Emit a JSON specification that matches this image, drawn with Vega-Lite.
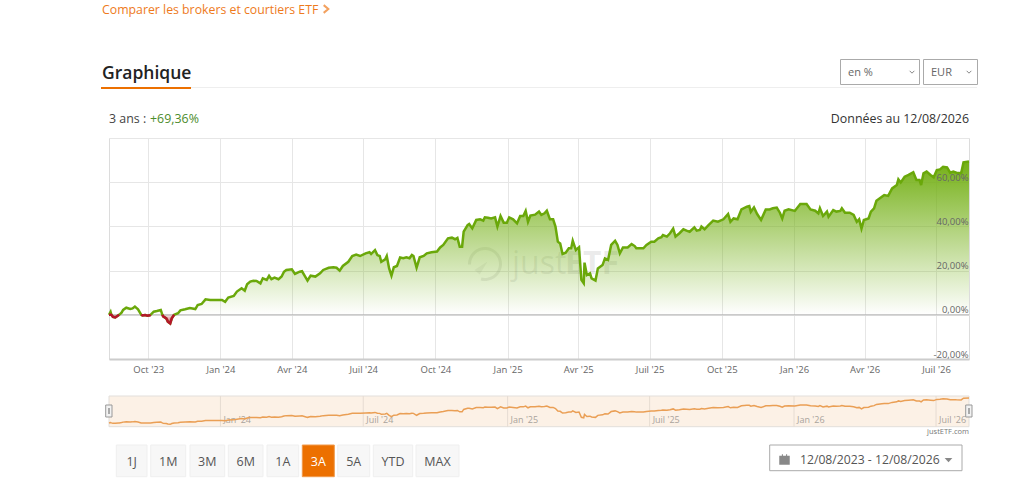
{
  "$schema": "https://vega.github.io/schema/vega-lite/v6.json",
  "width": 860,
  "height": 221,
  "autosize": "none",
  "padding": {"left": 109, "top": 138, "right": 55, "bottom": 130},
  "background": "white",
  "view": {"stroke": "#dcdcdc"},
  "config": {"font": "Open Sans", "text": {"font": "Open Sans", "baseline": "alphabetic"}},
  "datasets": {
    "perf": [
      {"date":"2023-08-12","value":0,"seg":"a"},{"date":"2023-08-14","value":1.3},{"date":"2023-08-15","value":0,"seg":"a"},{"date":"2023-08-17","value":-0.9,"seg":"a"},{"date":"2023-08-20","value":-1.2,"seg":"a"},{"date":"2023-08-24","value":-0.2,"seg":"a"},{"date":"2023-08-25","value":0,"seg":"a"},{"date":"2023-08-28","value":1.0},{"date":"2023-08-30","value":2.2},{"date":"2023-09-03","value":3.2},{"date":"2023-09-08","value":2.6},{"date":"2023-09-11","value":2.9},{"date":"2023-09-14","value":3.7},{"date":"2023-09-18","value":2.5},{"date":"2023-09-21","value":0.7},{"date":"2023-09-22","value":0,"seg":"b"},{"date":"2023-09-24","value":-0.3,"seg":"b"},{"date":"2023-09-27","value":-0.1,"seg":"b"},{"date":"2023-09-30","value":-0.4,"seg":"b"},{"date":"2023-10-03","value":-0.2,"seg":"b"},{"date":"2023-10-04","value":0,"seg":"b"},{"date":"2023-10-08","value":1.4},{"date":"2023-10-12","value":1.7},{"date":"2023-10-17","value":2.2},{"date":"2023-10-19","value":0,"seg":"c"},{"date":"2023-10-20","value":-0.7,"seg":"c"},{"date":"2023-10-24","value":-1.6,"seg":"c"},{"date":"2023-10-26","value":-3.1,"seg":"c"},{"date":"2023-10-29","value":-3.9,"seg":"c"},{"date":"2023-10-31","value":-1.6,"seg":"c"},{"date":"2023-11-03","value":0,"seg":"c"},{"date":"2023-11-08","value":0.7},{"date":"2023-11-11","value":2.0},{"date":"2023-11-17","value":2.5},{"date":"2023-11-23","value":3.1},{"date":"2023-11-30","value":2.6},
      {"date":"2023-12-03","value":4.4},{"date":"2023-12-08","value":4.9},{"date":"2023-12-13","value":7.0},{"date":"2023-12-19","value":6.7},{"date":"2023-12-25","value":6.7},{"date":"2024-01-03","value":6.7},{"date":"2024-01-07","value":5.9},{"date":"2024-01-11","value":7.8},{"date":"2024-01-18","value":8.5},{"date":"2024-01-22","value":10.5},{"date":"2024-01-28","value":12.0},{"date":"2024-02-01","value":10.9},{"date":"2024-02-04","value":13.8},{"date":"2024-02-08","value":15.0},{"date":"2024-02-12","value":15.4},{"date":"2024-02-16","value":15.3},{"date":"2024-02-21","value":14.2},{"date":"2024-02-24","value":16.5},{"date":"2024-02-29","value":15.8},{"date":"2024-03-03","value":17.6},{"date":"2024-03-06","value":16.1},{"date":"2024-03-10","value":16.8},{"date":"2024-03-15","value":16.1},{"date":"2024-03-19","value":17.3},{"date":"2024-03-22","value":19.5},{"date":"2024-03-25","value":20.3},{"date":"2024-04-01","value":20.6},{"date":"2024-04-05","value":18.5},{"date":"2024-04-11","value":19.5},{"date":"2024-04-14","value":19.7},{"date":"2024-04-18","value":17.3},{"date":"2024-04-21","value":15.5},{"date":"2024-04-25","value":17.7},{"date":"2024-05-01","value":17.3},{"date":"2024-05-07","value":18.8},{"date":"2024-05-11","value":20.3},{"date":"2024-05-18","value":21.3},{"date":"2024-05-24","value":21.5},{"date":"2024-05-28","value":21.3},{"date":"2024-06-01","value":20.0},{"date":"2024-06-05","value":22.1},{"date":"2024-06-12","value":24.0},{"date":"2024-06-17","value":26.6},{"date":"2024-06-22","value":27.2},{"date":"2024-06-27","value":26.6},{"date":"2024-07-04","value":27.8},{"date":"2024-07-09","value":28.3},{"date":"2024-07-11","value":27.5},{"date":"2024-07-16","value":29.3},{"date":"2024-07-19","value":27.0},{"date":"2024-07-22","value":26.6},{"date":"2024-07-24","value":24.0},{"date":"2024-07-29","value":25.1},{"date":"2024-07-31","value":26.6},{"date":"2024-08-03","value":21.0},{"date":"2024-08-06","value":17.7},{"date":"2024-08-09","value":21.5},{"date":"2024-08-13","value":22.1},{"date":"2024-08-17","value":25.9},{"date":"2024-08-21","value":25.6},{"date":"2024-08-25","value":26.0},{"date":"2024-08-29","value":25.6},{"date":"2024-09-01","value":27.1},{"date":"2024-09-03","value":26.6},{"date":"2024-09-07","value":21.3},{"date":"2024-09-11","value":26.0},{"date":"2024-09-16","value":26.6},{"date":"2024-09-20","value":27.8},{"date":"2024-09-26","value":28.3},{"date":"2024-10-03","value":28.6},{"date":"2024-10-07","value":30.5},{"date":"2024-10-11","value":31.6},{"date":"2024-10-17","value":34.6},{"date":"2024-10-22","value":34.9},{"date":"2024-10-26","value":34.2},{"date":"2024-10-29","value":34.8},{"date":"2024-11-01","value":30.8},{"date":"2024-11-04","value":30.8},{"date":"2024-11-06","value":37.6},{"date":"2024-11-11","value":40.6},{"date":"2024-11-13","value":41.1},{"date":"2024-11-17","value":39.1},{"date":"2024-11-22","value":42.9},{"date":"2024-11-27","value":43.2},{"date":"2024-12-01","value":42.6},{"date":"2024-12-03","value":44.1},{"date":"2024-12-07","value":43.9},{"date":"2024-12-11","value":43.6},{"date":"2024-12-16","value":44.1},{"date":"2024-12-19","value":39.9},{"date":"2024-12-23","value":44.7},{"date":"2024-12-27","value":41.7},{"date":"2024-12-31","value":41.7},
      {"date":"2025-01-03","value":44.1},{"date":"2025-01-08","value":43.2},{"date":"2025-01-13","value":41.4},{"date":"2025-01-17","value":44.7},{"date":"2025-01-21","value":44.7},{"date":"2025-01-24","value":47.0},{"date":"2025-01-27","value":42.1},{"date":"2025-01-30","value":44.9},{"date":"2025-02-05","value":45.3},{"date":"2025-02-10","value":46.7},{"date":"2025-02-13","value":45.2},{"date":"2025-02-17","value":45.9},{"date":"2025-02-20","value":47.1},{"date":"2025-02-24","value":43.2},{"date":"2025-02-28","value":43.2},{"date":"2025-03-03","value":39.9},{"date":"2025-03-06","value":33.1},{"date":"2025-03-09","value":32.3},{"date":"2025-03-12","value":27.5},{"date":"2025-03-16","value":28.1},{"date":"2025-03-20","value":30.1},{"date":"2025-03-23","value":30.1},{"date":"2025-03-25","value":33.5},{"date":"2025-03-29","value":29.3},{"date":"2025-04-02","value":30.5},{"date":"2025-04-05","value":15.8},{"date":"2025-04-08","value":14.3},{"date":"2025-04-09","value":23.6},{"date":"2025-04-12","value":18.0},{"date":"2025-04-16","value":18.8},{"date":"2025-04-18","value":16.5},{"date":"2025-04-23","value":15.5},{"date":"2025-04-26","value":21.0},{"date":"2025-05-02","value":22.5},{"date":"2025-05-05","value":25.5},{"date":"2025-05-09","value":24.8},{"date":"2025-05-13","value":31.6},{"date":"2025-05-18","value":33.5},{"date":"2025-05-21","value":31.6},{"date":"2025-05-24","value":27.8},{"date":"2025-05-28","value":30.5},{"date":"2025-06-03","value":30.5},{"date":"2025-06-08","value":32.0},{"date":"2025-06-12","value":31.1},{"date":"2025-06-14","value":30.1},{"date":"2025-06-23","value":30.1},{"date":"2025-06-27","value":31.6},{"date":"2025-07-03","value":33.1},{"date":"2025-07-07","value":33.1},{"date":"2025-07-12","value":34.6},{"date":"2025-07-16","value":35.1},{"date":"2025-07-18","value":36.1},{"date":"2025-07-23","value":35.4},{"date":"2025-07-27","value":36.9},{"date":"2025-07-31","value":39.0},{"date":"2025-08-03","value":35.4},{"date":"2025-08-08","value":36.9},{"date":"2025-08-13","value":38.7},{"date":"2025-08-17","value":38.1},{"date":"2025-08-21","value":37.6},{"date":"2025-08-27","value":39.6},{"date":"2025-08-30","value":38.1},{"date":"2025-09-03","value":38.4},{"date":"2025-09-05","value":39.9},{"date":"2025-09-09","value":38.7},{"date":"2025-09-14","value":40.6},{"date":"2025-09-20","value":42.6},{"date":"2025-09-26","value":42.1},{"date":"2025-10-03","value":43.2},{"date":"2025-10-09","value":45.6},{"date":"2025-10-12","value":42.1},{"date":"2025-10-16","value":43.6},{"date":"2025-10-21","value":43.2},{"date":"2025-10-26","value":47.7},{"date":"2025-11-02","value":48.9},{"date":"2025-11-05","value":49.2},{"date":"2025-11-07","value":46.6},{"date":"2025-11-11","value":48.6},{"date":"2025-11-15","value":45.6},{"date":"2025-11-20","value":42.9},{"date":"2025-11-26","value":47.7},{"date":"2025-12-01","value":47.7},{"date":"2025-12-05","value":48.2},{"date":"2025-12-10","value":48.5},{"date":"2025-12-14","value":46.2},{"date":"2025-12-17","value":43.6},{"date":"2025-12-20","value":47.1},{"date":"2025-12-25","value":47.7},
      {"date":"2026-01-02","value":47.0},{"date":"2026-01-09","value":50.1},{"date":"2026-01-17","value":50.1},{"date":"2026-01-22","value":47.7},{"date":"2026-01-28","value":47.1},{"date":"2026-02-01","value":45.9},{"date":"2026-02-03","value":48.2},{"date":"2026-02-07","value":44.7},{"date":"2026-02-12","value":46.7},{"date":"2026-02-14","value":44.4},{"date":"2026-02-20","value":47.4},{"date":"2026-02-24","value":46.7},{"date":"2026-03-01","value":47.0},{"date":"2026-03-03","value":48.2},{"date":"2026-03-07","value":46.2},{"date":"2026-03-13","value":46.2},{"date":"2026-03-18","value":45.2},{"date":"2026-03-22","value":42.1},{"date":"2026-03-25","value":43.2},{"date":"2026-03-28","value":39.0},{"date":"2026-03-31","value":42.9},{"date":"2026-04-06","value":43.6},{"date":"2026-04-09","value":46.7},{"date":"2026-04-13","value":48.2},{"date":"2026-04-16","value":51.6},{"date":"2026-04-23","value":53.4},{"date":"2026-04-26","value":54.2},{"date":"2026-05-01","value":53.8},{"date":"2026-05-06","value":57.2},{"date":"2026-05-12","value":58.7},{"date":"2026-05-14","value":61.3},{"date":"2026-05-17","value":59.9},{"date":"2026-05-22","value":62.5},{"date":"2026-05-27","value":63.3},{"date":"2026-06-02","value":64.5},{"date":"2026-06-06","value":61.0},{"date":"2026-06-10","value":61.0},{"date":"2026-06-12","value":58.7},{"date":"2026-06-15","value":64.0},{"date":"2026-06-19","value":64.8},{"date":"2026-06-24","value":63.3},{"date":"2026-06-28","value":62.2},{"date":"2026-07-02","value":65.5},{"date":"2026-07-06","value":65.8},{"date":"2026-07-10","value":67.0},{"date":"2026-07-15","value":66.7},{"date":"2026-07-19","value":64.3},{"date":"2026-07-23","value":64.8},{"date":"2026-07-27","value":64.3},{"date":"2026-08-02","value":64.0},{"date":"2026-08-05","value":69.0},{"date":"2026-08-12","value":69.36}
    ],
    "navTicks": [
      {"date":"2024-01-01","label":"Jan '24"},{"date":"2024-07-01","label":"Juil '24"},{"date":"2025-01-01","label":"Jan '25"},{"date":"2025-07-01","label":"Juil '25"},{"date":"2026-01-01","label":"Jan '26"},{"date":"2026-07-01","label":"Juil '26"}
    ]
  },
  "data": {"name": "perf"},
  "resolve": {"scale": {"y": "independent"}},
  "layer": [
    {
      "mark": {"type": "text", "text": "just", "x": 403, "y": 136, "fontSize": 32, "color": "rgba(130,130,130,0.16)", "align": "left"},
      "data": {"values": [{}]}, "encoding": {}
    },
    {
      "mark": {"type": "text", "text": "ETF", "x": 456, "y": 136, "fontSize": 32, "fontWeight": "bold", "color": "rgba(130,130,130,0.16)", "align": "left"},
      "data": {"values": [{}]}, "encoding": {}
    },
    {
      "mark": {"type": "arc", "x": 376, "y": 126, "radius": 17, "radius2": 14, "theta": -1.6, "theta2": 3.4, "color": "rgba(130,130,130,0.16)"},
      "data": {"values": [{}]}, "encoding": {}
    },
    {
      "mark": {"type": "point", "shape": "M1,-1L-1,0.3L-0.2,1Z", "x": 372, "y": 130, "size": 170, "filled": true, "color": "rgba(130,130,130,0.16)", "strokeWidth": 0},
      "data": {"values": [{}]}, "encoding": {}
    },
    {
      "mark": {
        "type": "area",
        "color": {
          "gradient": "linear", "x1": 0, "y1": 0, "x2": 0, "y2": 1,
          "stops": [
            {"offset": 0, "color": "rgba(116,176,22,1)"},
            {"offset": 0.947, "color": "rgba(116,176,22,0)"},
            {"offset": 1, "color": "rgba(116,176,22,0)"}
          ]
        }
      },
      "encoding": {
        "x": {
          "field": "date", "type": "temporal", "title": null,
          "scale": {"domain": [{"year": 2023, "month": "aug", "date": 12}, {"year": 2026, "month": "aug", "date": 12}]},
          "axis": {
            "values": [
              {"year": 2023, "month": "oct", "date": 1},
              {"year": 2024, "month": "jan", "date": 1},
              {"year": 2024, "month": "apr", "date": 1},
              {"year": 2024, "month": "jul", "date": 1},
              {"year": 2024, "month": "oct", "date": 1},
              {"year": 2025, "month": "jan", "date": 1},
              {"year": 2025, "month": "apr", "date": 1},
              {"year": 2025, "month": "jul", "date": 1},
              {"year": 2025, "month": "oct", "date": 1},
              {"year": 2026, "month": "jan", "date": 1},
              {"year": 2026, "month": "apr", "date": 1},
              {"year": 2026, "month": "jul", "date": 1}
            ],
            "labelExpr": "({'0':'Jan','3':'Avr','6':'Juil','9':'Oct'})[month(datum.value)] + \" '\" + timeFormat(datum.value, '%y')",
            "grid": true, "gridColor": "#e6e6e6", "ticks": false,
            "domainColor": "#cccccc", "domainWidth": 2,
            "labelColor": "#666666", "labelFontSize": 9.5, "labelPadding": 5, "labelFont": "Open Sans", "labelOverlap": false, "labelFlush": false
          }
        },
        "y": {
          "field": "value", "type": "quantitative", "title": null,
          "scale": {"domain": [-20, 80], "nice": false, "zero": false},
          "axis": {"orient": "left", "values": [-20, 0, 20, 40, 60, 80], "labels": false, "ticks": false, "domain": false, "grid": true, "gridColor": "#e6e6e6"}
        },
        "y2": {"datum": 0}
      }
    },
    {
      "mark": {"type": "rule", "color": "#b4b4b4", "strokeWidth": 1},
      "data": {"values": [{"zero": 0}]},
      "encoding": {
        "y": {"field": "zero", "type": "quantitative", "scale": {"domain": [-20, 80], "nice": false, "zero": false}, "axis": null}
      }
    },
    {
      "transform": [{"filter": "isValid(datum.seg)"}],
      "mark": {
        "type": "area",
        "color": {
          "gradient": "linear", "x1": 0, "y1": 1, "x2": 0, "y2": 0,
          "stops": [
            {"offset": 0, "color": "rgba(190,30,50,0.85)"},
            {"offset": 1, "color": "rgba(190,30,50,0.05)"}
          ]
        }
      },
      "encoding": {
        "x": {"field": "date", "type": "temporal"},
        "y": {"field": "value", "type": "quantitative", "scale": {"domain": [-20, 80], "nice": false, "zero": false}, "axis": null},
        "y2": {"datum": 0},
        "detail": {"field": "seg"}
      }
    },
    {
      "mark": {"type": "line", "color": "#6aa80a", "strokeWidth": 2.5},
      "encoding": {
        "x": {"field": "date", "type": "temporal"},
        "y": {
          "field": "value", "type": "quantitative", "title": null,
          "scale": {"domain": [-20, 80], "nice": false, "zero": false},
          "axis": {
            "orient": "right", "values": [-20, 0, 20, 40, 60], "grid": false, "ticks": false, "domain": false,
            "labelExpr": "replace(replace(format(datum.value, '.2f'), '.', ','), '−', '-') + '%'",
            "labelPadding": -1, "labelAlign": "right", "labelOffset": -5, "labelColor": "#666666", "labelFontSize": 9.5, "labelFont": "Open Sans", "zindex": 1
          }
        }
      }
    },
    {
      "transform": [{"filter": "isValid(datum.seg) && datum.value <= 0"}],
      "mark": {"type": "line", "color": "#b5162b", "strokeWidth": 2.5},
      "encoding": {
        "x": {"field": "date", "type": "temporal"},
        "y": {"field": "value", "type": "quantitative", "scale": {"domain": [-20, 80], "nice": false, "zero": false}, "axis": null},
        "detail": {"field": "seg"}
      }
    },
    {
      "mark": {"type": "rect", "x": 0, "x2": 860, "y": 258, "y2": 288.7, "fill": "#fcf1e6", "stroke": "#e2dfdb", "strokeWidth": 1},
      "data": {"values": [{}]}, "encoding": {}
    },
    {
      "data": {"name": "navTicks"},
      "mark": {"type": "rule", "color": "#e6dcd2", "strokeWidth": 1, "y": 258, "y2": 288.7},
      "encoding": {"x": {"field": "date", "type": "temporal"}}
    },
    {
      "data": {"name": "navTicks"},
      "mark": {"type": "text", "color": "#a9a39c", "fontSize": 9, "align": "left", "dx": 3, "y": 285},
      "encoding": {"x": {"field": "date", "type": "temporal"}, "text": {"field": "label"}}
    },
    {
      "mark": {"type": "line", "color": "#ea9f55", "strokeWidth": 1.5},
      "encoding": {
        "x": {"field": "date", "type": "temporal"},
        "y": {"field": "value", "type": "quantitative", "scale": {"domain": [-10, 75], "range": [288.5, 258], "nice": false, "zero": false}, "axis": null}
      }
    },
    {"mark": {"type": "rect", "x": -3.3, "x2": 3, "y": 267, "y2": 279, "fill": "#f2f2f2", "stroke": "#999999"}, "data": {"values": [{}]}, "encoding": {}},
    {"mark": {"type": "rect", "x": 856.7, "x2": 863, "y": 267, "y2": 279, "fill": "#f2f2f2", "stroke": "#999999"}, "data": {"values": [{}]}, "encoding": {}},
    {"mark": {"type": "rect", "x": -1, "x2": 1, "y": 270, "y2": 276, "fill": "#aaaaaa"}, "data": {"values": [{}]}, "encoding": {}},
    {"mark": {"type": "rect", "x": 859, "x2": 861, "y": 270, "y2": 276, "fill": "#aaaaaa"}, "data": {"values": [{}]}, "encoding": {}},
    {"mark": {"type": "text", "text": "justETF.com", "x": 860, "y": 296, "align": "right", "fontSize": 7.5, "color": "#777777"}, "data": {"values": [{}]}, "encoding": {}},

    {"mark": {"type": "text", "text": "Comparer les brokers et courtiers ETF", "x": -7, "y": -124, "fontSize": 12.3, "color": "#ee7a1c", "align": "left"}, "data": {"values": [{}]}, "encoding": {}},
    {"mark": {"type": "point", "shape": "M-0.6,-1L0.6,0L-0.6,1", "x": 217, "y": -129, "size": 60, "filled": false, "stroke": "#ee7a1c", "strokeWidth": 2}, "data": {"values": [{}]}, "encoding": {}},
    {"mark": {"type": "text", "text": "Graphique", "x": -7, "y": -59, "fontSize": 17.5, "fontWeight": 600, "color": "#222222", "align": "left"}, "data": {"values": [{}]}, "encoding": {}},
    {"mark": {"type": "rect", "x": 82, "x2": 868, "y": -51, "y2": -50, "fill": "#eeeeee"}, "data": {"values": [{}]}, "encoding": {}},
    {"mark": {"type": "rect", "x": -8, "x2": 82, "y": -51, "y2": -49, "fill": "#ec7000"}, "data": {"values": [{}]}, "encoding": {}},

    {"mark": {"type": "rect", "x": 731.5, "x2": 810.5, "y": -78.5, "y2": -53.5, "fill": "white", "stroke": "#aaaaaa"}, "data": {"values": [{}]}, "encoding": {}},
    {"mark": {"type": "text", "text": "en %", "x": 739, "y": -62, "fontSize": 11, "color": "#666666", "align": "left"}, "data": {"values": [{}]}, "encoding": {}},
    {"mark": {"type": "point", "shape": "M-1,-0.5L0,0.5L1,-0.5", "x": 803, "y": -66, "size": 22, "filled": false, "stroke": "#555555", "strokeWidth": 1}, "data": {"values": [{}]}, "encoding": {}},
    {"mark": {"type": "rect", "x": 814.5, "x2": 868.5, "y": -78.5, "y2": -53.5, "fill": "white", "stroke": "#aaaaaa"}, "data": {"values": [{}]}, "encoding": {}},
    {"mark": {"type": "text", "text": "EUR", "x": 822, "y": -62, "fontSize": 11, "color": "#666666", "align": "left"}, "data": {"values": [{}]}, "encoding": {}},
    {"mark": {"type": "point", "shape": "M-1,-0.5L0,0.5L1,-0.5", "x": 860, "y": -66, "size": 22, "filled": false, "stroke": "#555555", "strokeWidth": 1}, "data": {"values": [{}]}, "encoding": {}},

    {"mark": {"type": "text", "text": "3 ans :", "x": 0, "y": -15, "fontSize": 12.4, "color": "#444444", "align": "left"}, "data": {"values": [{}]}, "encoding": {}},
    {"mark": {"type": "text", "text": "+69,36%", "x": 41, "y": -15, "fontSize": 12.4, "color": "#4c8c2b", "align": "left"}, "data": {"values": [{}]}, "encoding": {}},
    {"mark": {"type": "text", "text": "Données au 12/08/2026", "x": 860, "y": -15, "fontSize": 12.4, "color": "#333333", "align": "right"}, "data": {"values": [{}]}, "encoding": {}},

    {"mark": {"type": "rect", "x": 7.3, "x2": 38, "y": 307, "y2": 338.7, "fill": "#f7f7f7", "stroke": "#efefef"}, "data": {"values": [{}]}, "encoding": {}},
    {"mark": {"type": "text", "text": "1J", "x": 22.7, "y": 328, "fontSize": 12.5, "color": "#555555", "align": "center"}, "data": {"values": [{}]}, "encoding": {}},
    {"mark": {"type": "rect", "x": 41.7, "x2": 76.7, "y": 307, "y2": 338.7, "fill": "#f7f7f7", "stroke": "#efefef"}, "data": {"values": [{}]}, "encoding": {}},
    {"mark": {"type": "text", "text": "1M", "x": 59.2, "y": 328, "fontSize": 12.5, "color": "#555555", "align": "center"}, "data": {"values": [{}]}, "encoding": {}},
    {"mark": {"type": "rect", "x": 81, "x2": 115.7, "y": 307, "y2": 338.7, "fill": "#f7f7f7", "stroke": "#efefef"}, "data": {"values": [{}]}, "encoding": {}},
    {"mark": {"type": "text", "text": "3M", "x": 98.3, "y": 328, "fontSize": 12.5, "color": "#555555", "align": "center"}, "data": {"values": [{}]}, "encoding": {}},
    {"mark": {"type": "rect", "x": 119.3, "x2": 154, "y": 307, "y2": 338.7, "fill": "#f7f7f7", "stroke": "#efefef"}, "data": {"values": [{}]}, "encoding": {}},
    {"mark": {"type": "text", "text": "6M", "x": 136.7, "y": 328, "fontSize": 12.5, "color": "#555555", "align": "center"}, "data": {"values": [{}]}, "encoding": {}},
    {"mark": {"type": "rect", "x": 158, "x2": 189.7, "y": 307, "y2": 338.7, "fill": "#f7f7f7", "stroke": "#efefef"}, "data": {"values": [{}]}, "encoding": {}},
    {"mark": {"type": "text", "text": "1A", "x": 173.8, "y": 328, "fontSize": 12.5, "color": "#555555", "align": "center"}, "data": {"values": [{}]}, "encoding": {}},
    {"mark": {"type": "rect", "x": 193.3, "x2": 225.3, "y": 307, "y2": 338.7, "fill": "#ec7000", "stroke": "#f09a4c"}, "data": {"values": [{}]}, "encoding": {}},
    {"mark": {"type": "text", "text": "3A", "x": 209.3, "y": 328, "fontSize": 12.5, "color": "#ffffff", "align": "center"}, "data": {"values": [{}]}, "encoding": {}},
    {"mark": {"type": "rect", "x": 228.7, "x2": 260.7, "y": 307, "y2": 338.7, "fill": "#f7f7f7", "stroke": "#efefef"}, "data": {"values": [{}]}, "encoding": {}},
    {"mark": {"type": "text", "text": "5A", "x": 244.7, "y": 328, "fontSize": 12.5, "color": "#555555", "align": "center"}, "data": {"values": [{}]}, "encoding": {}},
    {"mark": {"type": "rect", "x": 264.3, "x2": 303.7, "y": 307, "y2": 338.7, "fill": "#f7f7f7", "stroke": "#efefef"}, "data": {"values": [{}]}, "encoding": {}},
    {"mark": {"type": "text", "text": "YTD", "x": 284, "y": 328, "fontSize": 12.5, "color": "#555555", "align": "center"}, "data": {"values": [{}]}, "encoding": {}},
    {"mark": {"type": "rect", "x": 307, "x2": 350, "y": 307, "y2": 338.7, "fill": "#f7f7f7", "stroke": "#efefef"}, "data": {"values": [{}]}, "encoding": {}},
    {"mark": {"type": "text", "text": "MAX", "x": 328.5, "y": 328, "fontSize": 12.5, "color": "#555555", "align": "center"}, "data": {"values": [{}]}, "encoding": {}},

    {"mark": {"type": "rect", "x": 660.7, "x2": 853, "y": 307, "y2": 332.7, "fill": "white", "stroke": "#aaaaaa"}, "data": {"values": [{}]}, "encoding": {}},
    {"mark": {"type": "point", "shape": "M-1,-0.7L-0.5,-0.7L-0.5,-1L-0.3,-1L-0.3,-0.7L0.3,-0.7L0.3,-1L0.5,-1L0.5,-0.7L1,-0.7L1,1L-1,1Z", "x": 675.5, "y": 321.5, "size": 110, "filled": true, "color": "#555555", "strokeWidth": 0}, "data": {"values": [{}]}, "encoding": {}},
    {"mark": {"type": "text", "text": "12/08/2023 - 12/08/2026", "x": 691, "y": 326, "fontSize": 12.2, "color": "#555555", "align": "left"}, "data": {"values": [{}]}, "encoding": {}},
    {"mark": {"type": "point", "shape": "M-1,-0.5L1,-0.5L0,0.6Z", "x": 839.5, "y": 322, "size": 60, "filled": true, "color": "#555555", "strokeWidth": 0}, "data": {"values": [{}]}, "encoding": {}}
  ]
}
